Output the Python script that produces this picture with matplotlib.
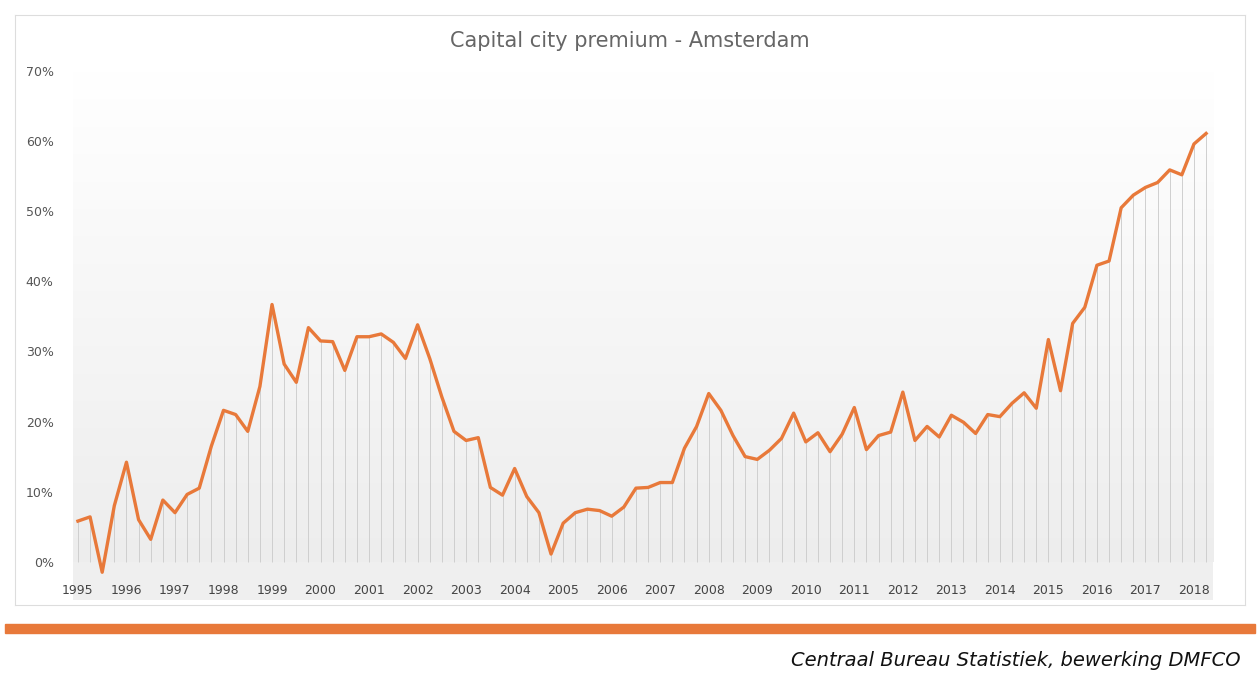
import numpy as np
import matplotlib.pyplot as plt

years = list(range(1995, 2019))
premium = [5.8, 6.4, -1.5, 8.0,
           14.2, 6.0, 3.2, 8.8,
           7.0, 9.6, 10.5, 16.5,
           21.6, 21.0, 18.6, 25.0,
           36.7, 28.2, 25.6, 33.4,
           31.5, 31.4, 27.3, 32.1,
           32.1, 32.5, 31.3, 29.0,
           33.8, 29.0, 23.5, 18.6,
           17.3, 17.7, 10.6, 9.5,
           13.3, 9.3, 7.0, 1.1,
           5.5, 7.0, 7.5, 7.3,
           6.5, 7.8, 10.5, 10.6,
           11.3, 11.3, 16.2, 19.3,
           24.0, 21.6, 18.0, 15.0,
           14.6, 15.9, 17.6, 21.2,
           17.1, 18.4, 15.7, 18.2,
           22.0, 16.0, 18.0, 18.5,
           24.2, 17.3, 19.3, 17.8,
           20.9, 19.9, 18.3, 21.0,
           20.7, 22.6, 24.1, 21.9,
           31.7, 24.4, 34.0, 36.3,
           42.3, 42.9, 50.5, 52.3,
           53.4, 54.1, 55.9, 55.2,
           59.6, 61.1]

t = np.arange(len(premium)) / 4.0
orange = '#e8793a'

fig = plt.figure(figsize=(12.6, 6.9), dpi=100)
# outer frame
frame = fig.add_axes([0.012, 0.123, 0.976, 0.855])
frame.set_xticks([]); frame.set_yticks([])
for s in frame.spines.values():
    s.set_color('#dddddd')

ax = fig.add_axes([0.058, 0.130, 0.905, 0.767])
ax.set_xlim(-0.1, 23.4)
ax.set_ylim(-5.5, 70)
# gradient background: white at top to light grey at bottom
shade = np.linspace(1.0, 0.93, 256).reshape(-1, 1, 1) * np.ones((1, 1, 3))
ax.imshow(shade, extent=[-0.1, 23.4, 0, 70], aspect='auto', origin='upper', zorder=0)
ax.axhspan(-5.5, 0, color='#efefef', zorder=0)
ax.vlines(t, 0, premium, color='#cfcfcf', lw=0.7, zorder=1)
ax.plot(t, premium, color=orange, lw=2.4, zorder=3)

ax.set_yticks(range(0, 71, 10))
ax.set_yticklabels([f'{v}%' for v in range(0, 71, 10)], fontsize=9, color='#555555')
ax.set_xticks(range(len(years)))
ax.set_xticklabels([str(y) for y in years], fontsize=9, color='#444444')
ax.tick_params(length=0)
ax.tick_params(axis='x', pad=-12)
ax.tick_params(axis='y', pad=14)
for s in ax.spines.values():
    s.set_visible(False)

fig.text(0.5, 0.94, 'Capital city premium - Amsterdam', ha='center', va='center',
         fontsize=15, color='#666666')
fig.patches.append(plt.Rectangle((0.004, 0.082), 0.992, 0.013, transform=fig.transFigure,
                                 color=orange))
fig.text(0.985, 0.043, 'Centraal Bureau Statistiek, bewerking DMFCO', ha='right',
         va='center', fontsize=14, style='italic', color='#111111')
fig.savefig('out.png')
